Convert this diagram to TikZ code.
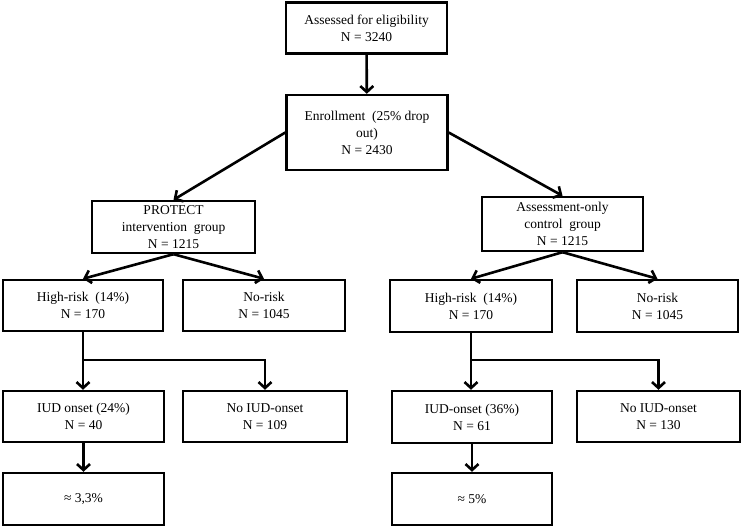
\documentclass[tikz,border=0pt]{standalone}
\usepackage{fontspec}
\setmainfont{Liberation Serif}
\usetikzlibrary{arrows.meta}
\tikzset{
  box/.style={draw, line width=2.4pt, minimum width=161pt, minimum height=51pt,
    inner sep=2pt, align=center, font=\fontsize{13.5}{17}\selectfont},
  arr/.style={line width=2.6pt, -{Straight Barb[length=6pt,width=13pt]}},
  ln/.style={line width=2.6pt}
}
\begin{document}
\begin{tikzpicture}[x=1pt,y=-1pt]
      \useasboundingbox (0,0) rectangle (742,529);
      \node[box] (elig) at (366.5,28) {Assessed for eligibility\\N = 3240};
      \node[box, minimum height=75pt] (enrol) at (367,132.5) {Enrollment\ \ (25\% drop\\out)\\N = 2430};
      \node[box, minimum width=163pt, minimum height=52pt] (protect) at (173.5,227) {PROTECT\\intervention\ \ group\\N = 1215};
      \node[box, minimum height=54pt] (assess) at (562.5,224) {Assessment-only\\control\ \ group\\N = 1215};
      % left arm
      \node[box, minimum width=160pt] (hr1) at (83,305.5) {High-risk\ \ (14\%)\\N = 170};
      \node[box, minimum width=162pt] (nr1) at (264,305.5) {No-risk\\N = 1045};
      \node[box] (iud1) at (83.5,416.5) {IUD onset (24\%)\\N = 40};
      \node[box, minimum width=164pt] (noiud1) at (265,416.5) {No IUD-onset\\N = 109};
      \node[box, minimum height=52pt] (pct1) at (83.5,499) {≈ 3,3\%};
      % right arm
      \node[box, minimum width=162pt, minimum height=52pt] (hr2) at (471,306) {High-risk\ \ (14\%)\\N = 170};
      \node[box, minimum height=52pt] (nr2) at (657.5,306) {No-risk\\N = 1045};
      \node[box, minimum width=160pt, minimum height=52pt] (iud2) at (472,417) {IUD-onset (36\%)\\N = 61};
      \node[box, minimum width=163pt] (noiud2) at (658.5,416.5) {No IUD-onset\\N = 130};
      \node[box, minimum width=160pt, minimum height=52pt] (pct2) at (472,499) {≈ 5\%};
      \coordinate (s1) at (83,360);
      \coordinate (s2) at (471,360);
      \draw [arr] (elig) -- (enrol);
      \draw [arr] (enrol.west) -- (protect.north);
      \draw [arr] (enrol.east) -- (assess.north);
      \draw [arr] (protect.south) -- (hr1.north);
      \draw [arr] (protect.south) -- (nr1.north);
      \draw [arr] (assess.south) -- (hr2.north);
      \draw [arr] (assess.south) -- (nr2.north);
      \draw [arr] (hr1.south) -- (iud1.north -| hr1.south);
      \draw [arr] (s1) -| (noiud1.north);
      \draw [arr] (hr2.south) -- (iud2.north -| hr2.south);
      \draw [arr] (s2) -| (noiud2.north);
      \draw [arr] (iud1) -- (pct1);
      \draw [arr] (iud2) -- (pct2);
\end{tikzpicture}
\end{document}
